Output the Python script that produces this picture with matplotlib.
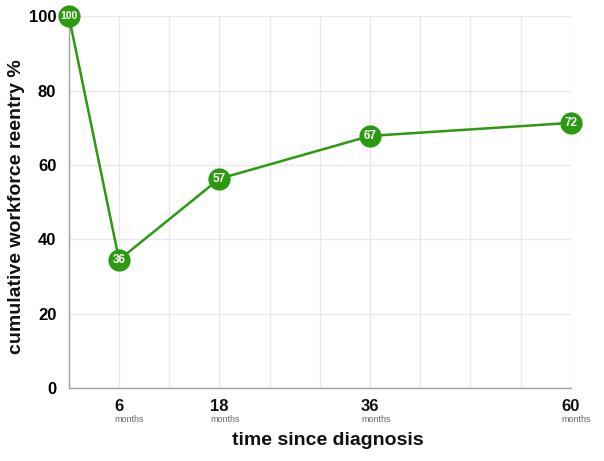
"""Cumulative workforce reentry after diagnosis"""

import matplotlib.pyplot as plt
from matplotlib.transforms import offset_copy

# %%
months = [0, 6, 18, 36, 60]
reentry = [100, 34.5, 56.3, 67.8, 71.3]
point_labels = ["100", "36", "57", "67", "72"]
tick_months = [6, 18, 36, 60]

GREEN = "#2a9a10"
GRID = "#e8e8e8"

plt.rcParams["font.family"] = ["Liberation Sans", "DejaVu Sans"]

# %%
fig = plt.figure(figsize=(6.04, 4.61), dpi=100)
ax = fig.add_axes([0.114, 0.158, 0.831, 0.807])

ax.plot(months, reentry, color=GREEN, lw=1.8, zorder=3, clip_on=False)
ax.plot(
    months, reentry, "o", ms=16, color=GREEN, mec="none", zorder=4, clip_on=False
)
for x, y, s in zip(months, reentry, point_labels):
    ax.text(
        x,
        y,
        s,
        ha="center",
        va="center",
        color="white",
        fontsize=8.5 if len(s) < 3 else 7.5,
        weight="bold",
        zorder=5,
        clip_on=False,
    )

ax.set_xlim(0, 60)
ax.set_ylim(0, 100)
ax.set_xticks(range(0, 61, 6))
ax.set_xticklabels([])
ax.set_yticks(range(0, 101, 20))
ax.tick_params(axis="y", length=0, pad=9, labelsize=12)
ax.tick_params(axis="x", length=0)
for lab in ax.get_yticklabels():
    lab.set_fontweight("bold")
ax.grid(True, color=GRID, lw=1)
ax.set_axisbelow(True)
for side in ["top", "right"]:
    ax.spines[side].set_visible(False)
for side in ["left", "bottom"]:
    ax.spines[side].set_color("#a0a0a0")
    ax.spines[side].set_linewidth(1)

# x tick labels: bold number with small "months" underneath
trans = ax.get_xaxis_transform()
for m in tick_months:
    ax.text(
        m, -0.03, str(m), transform=trans, ha="center", va="top",
        fontsize=12, weight="bold", color="#111111",
    )
    shift = -3.5 if m < 10 else -6.5
    ax.text(
        m, -0.072, "months",
        transform=offset_copy(trans, fig=fig, x=shift, units="points"),
        ha="left", va="top", fontsize=6.5, color="#666666",
    )

fig.text(
    0.028, 0.551, "cumulative workforce reentry %", rotation=90,
    ha="center", va="center", fontsize=14, weight="bold", color="#111111",
)
fig.text(
    0.543, 0.045, "time since diagnosis",
    ha="center", va="center", fontsize=14, weight="bold", color="#111111",
)

plt.savefig("out.png", dpi=100)
